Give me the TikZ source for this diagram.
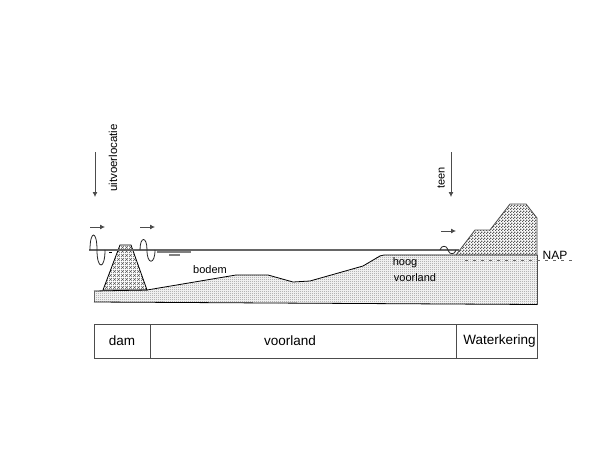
\documentclass[tikz,border=0pt]{standalone}
\usepackage{fontspec}
\setmainfont{Liberation Sans}
\usetikzlibrary{
	patterns,
	positioning,
	arrows.meta,
	calc
}
\pgfdeclarepatternformonly{landdots}{\pgfqpoint{0pt}{0pt}}{\pgfqpoint{2pt}{2pt}}{\pgfqpoint{2pt}{2pt}}{%
	\pgfpathrectangle{\pgfqpoint{0pt}{0pt}}{\pgfqpoint{1pt}{1pt}}%
	\pgfpathrectangle{\pgfqpoint{1pt}{1pt}}{\pgfqpoint{1pt}{1pt}}%
	\pgfusepath{fill}}
\pgfdeclarepatternformonly{dikedots}{\pgfqpoint{0pt}{0pt}}{\pgfqpoint{3pt}{3pt}}{\pgfqpoint{3pt}{3pt}}{%
	\pgfpathrectangle{\pgfqpoint{0pt}{0pt}}{\pgfqpoint{1.5pt}{1.5pt}}%
	\pgfpathrectangle{\pgfqpoint{1.5pt}{1.5pt}}{\pgfqpoint{1.5pt}{1.5pt}}%
	\pgfusepath{fill}}
\pgfdeclarepatternformonly{damhatch}{\pgfqpoint{0pt}{0pt}}{\pgfqpoint{3.5pt}{3.5pt}}{\pgfqpoint{3.5pt}{3.5pt}}{%
	\pgfsetlinewidth{.45pt}%
	\pgfpathmoveto{\pgfqpoint{0pt}{0pt}}\pgfpathlineto{\pgfqpoint{3.5pt}{3.5pt}}%
	\pgfpathmoveto{\pgfqpoint{0pt}{3.5pt}}\pgfpathlineto{\pgfqpoint{3.5pt}{0pt}}%
	\pgfusepath{stroke}}
\tikzset{
	lab/.style={font=\fontsize{11}{12}\selectfont, inner sep=0pt},
	flow/.style={-{Latex[length=5pt,width=5pt]}, line width=.8pt, black!70},
	wave/.style={line width=.8pt, black!85},
	cell/.style={draw=black!70, line width=.8pt, minimum height=34pt, inner sep=0pt, outer sep=0pt, anchor=west, font=\fontsize{13.5}{15}\selectfont}
}
\begin{document}
\begin{tikzpicture}[x=1pt, y=-1pt]
	\useasboundingbox (0,0) rectangle (600,450);
	\fill[white] (0,0) rectangle (600,450);
%
	% foreland
	\path[pattern=landdots, pattern color=black!45] (94,291) -- (147,290) -- (236,275) -- (268,275) -- (293,282) -- (310,281) -- (363,266) -- (380,255) -- (537,255) -- (537,305) -- (94,302) -- cycle;
	\draw[line width=.8pt] (147,290) -- (236,275) -- (268,275) -- (293,282) -- (310,281) -- (363,266) -- (380,256) -- (384,255) -- (456,255) -- (537,255);
	\draw[line width=.8pt] (94,291) -- (147,290);
	\draw[line width=.8pt, black!60] (94,291) -- (94,302);
	\draw[line width=.8pt] (94,302) -- (537,304.5);
	% dam and levee
	\draw[pattern=damhatch, pattern color=black!65, line width=.8pt] (103,290) -- (120,245) -- (131,245) -- (147,290) -- cycle;
	\draw[pattern=dikedots, pattern color=black!65, draw=black!70, line width=.8pt] (456,255) -- (475,230) -- (490,230) -- (510,204) -- (526,204) -- (537,218) -- (537,255);
	\draw[black!70, line width=.8pt] (537,255) -- (537,305);
	% water
	\draw[black!60, line width=1.2pt] (89,250) -- (459,250);
	\draw[black!50, line width=2pt] (157,251.5) -- (191,251.5);
	\draw[black!50, line width=1.2pt] (169,255) -- (180,255);
	\draw[line width=.7pt] (109,252) -- (112,252);
	\draw[black!60, line width=1pt, dash pattern=on 3pt off 5pt] (465,260) -- (573,260);
	% waves
	\draw[wave] (90,250) .. controls (90,230) and (97,230) .. (97,250) .. controls (97,270) and (105,270) .. (105,250);
	\draw[wave] (140,250) .. controls (140,236) and (147,236) .. (147,250) .. controls (147,265) and (155,265) .. (155,250);
	\draw[wave] (440,250) .. controls (441,245) and (447,245) .. (448,250) .. controls (449,255) and (455,255) .. (456,250);
%
	\coordinate (Aa) at (90,227);
	\coordinate (Ab) at (105,227);
	\coordinate (Ba) at (140,227);
	\coordinate (Bb) at (155,227);
	\coordinate (Ca) at (441,231);
	\coordinate (Cb) at (456,231);
	\coordinate (Da) at (95,152);
	\coordinate (Db) at (95,197);
	\coordinate (Ea) at (451,152);
	\coordinate (Eb) at (451,197);
	\draw[flow] (Aa) -- (Ab);
	\draw[flow] (Ba) -- (Bb);
	\draw[flow] (Ca) -- (Cb);
	\draw[flow] (Da) -- (Db);
	\draw[flow] (Ea) -- (Eb);
%
	\node[lab, rotate=90, font=\fontsize{11.5}{12}\selectfont] (uit) at (113,158) {uitvoerlocatie};
	\node[lab, rotate=90] (teen) at (441,178) {teen};
	\node[lab] (bodem) at (210,270) {bodem};
	\node[lab] (hoog) at (405,263) {hoog};
	\node[lab] (voor) at (415,278) {voorland};
	\node[font=\fontsize{12}{14}\selectfont, inner sep=0pt] (nap) at (555,255) {NAP};
%
	\node[cell, minimum width=56pt] (dam) at (94,341) {dam};
	\node[cell, minimum width=306pt, right=0 of dam] (land) {\kern-26pt voorland};
	\node[cell, minimum width=81pt, right=0 of land] (kering) {\kern6pt Waterkering};
\end{tikzpicture}
\end{document}
